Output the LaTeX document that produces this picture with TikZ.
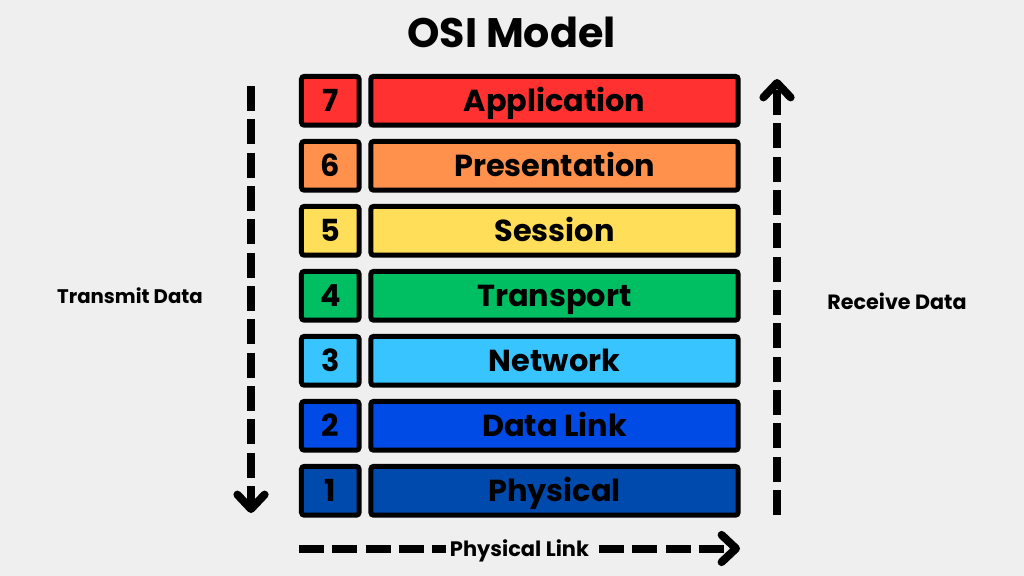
\documentclass[tikz,border=0pt]{standalone}
\usepackage{fontspec}
\setmainfont{Poppins}
\usetikzlibrary{arrows.meta}
\definecolor{fondo}{HTML}{EFEFEF}
\definecolor{capa7}{HTML}{FF3131}
\definecolor{capa6}{HTML}{FF914D}
\definecolor{capa5}{HTML}{FFDE59}
\definecolor{capa4}{HTML}{00BF63}
\definecolor{capa3}{HTML}{38C4FF}
\definecolor{capa2}{HTML}{004AE6}
\definecolor{capa1}{HTML}{004AAD}
\tikzset{
  caja/.style={draw=black,line width=0.125cm,rounded corners=0.07cm,inner sep=0pt,
    minimum height=1.22cm,text height=0.53cm,text depth=0pt,
    font=\fontsize{21.6}{21.6}\selectfont\bfseries},
  numero/.style={caja,minimum width=1.44cm},
  capa/.style={caja,minimum width=9.18cm},
  flecha/.style={line width=0.2cm,dash pattern=on 0.625cm off 0.208cm,
    -{Straight Barb[round,length=0.36cm,width=0.68cm]}},
  rotulo/.style={text height=0.37cm,text depth=0pt}
}
\begin{document}
\begin{tikzpicture}[x=0.025cm,y=-0.025cm]
  % Fondo
  \fill[fondo] (0,0) rectangle (1024,576);
  % Titulo
  \node[font=\fontsize{29.3}{29.3}\selectfont\bfseries] (titulo) at (511.5,32) {OSI Model};
  % Capas
  \foreach \n/\nombre in {7/Application,6/Presentation,5/Session,4/Transport,3/Network,2/Data Link,1/Physical}{
    \node[numero,fill=capa\n] (num\n) at (330.3,{100.8+65*(7-\n)}) {\n};
    \node[capa,fill=capa\n] (capa\n) at (554.5,{100.8+65*(7-\n)}) {\nombre};
  }
  % Flechas
  \coordinate (tx1) at (251,86);
  \coordinate (tx2) at (251,513);
  \coordinate (rx1) at (777,515);
  \coordinate (rx2) at (777,79);
  \coordinate (pl1) at (299,548.5);
  \coordinate (pl2) at (740,548.5);
  \draw[flecha] (tx1) -- (tx2);
  \draw[flecha] (rx1) -- (rx2);
  \draw[flecha] (pl1) -- (pl2);
  % Rotulos
  \node[rotulo,font=\fontsize{14}{14}\selectfont\bfseries] (transmit) at (130,296) {Transmit Data};
  \node[rotulo,font=\fontsize{14.7}{14.7}\selectfont\bfseries] (receive) at (897,302) {Receive Data};
  \node[rotulo,font=\fontsize{14.9}{14.9}\selectfont\bfseries,fill=fondo,inner sep=0pt,minimum height=0.5cm,minimum width=3.68cm] (fisico) at (519.5,549) {Physical Link};
\end{tikzpicture}
\end{document}
